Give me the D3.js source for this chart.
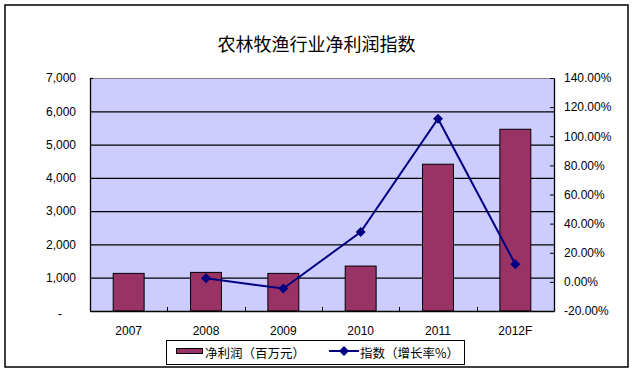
<!DOCTYPE html>
<html>
<head>
<meta charset="utf-8">
<script src="https://cdn.jsdelivr.net/npm/d3@7"></script>
<style>
  body { margin: 0; background: #fff; }
  text { font-family: Arial, "Liberation Sans", sans-serif; }
</style>
</head>
<body>
<div id="chart-area"></div>
<script>
// data
var years = ["2007", "2008", "2009", "2010", "2011", "2012F"];
var profit = [1130, 1160, 1130, 1350, 4410, 5460];
var growth = [null, 2.5, -4.6, 34.2, 112.0, 12.1];
var leftTicks = [0, 1000, 2000, 3000, 4000, 5000, 6000, 7000];
var rightTicks = [-20, 0, 20, 40, 60, 80, 100, 120, 140];

var W = 632, H = 376;
var plot = { left: 90, right: 554, top: 78, bottom: 311 };
var cjk = "'Noto Sans CJK SC', 'Noto Sans', sans-serif";

var svg = d3.select("#chart-area").append("svg")
    .attr("width", W)
    .attr("height", H);

// outer border
svg.append("rect")
    .attr("x", 5).attr("y", 5)
    .attr("width", 623).attr("height", 362)
    .attr("fill", "#fff")
    .attr("stroke", "#000")
    .attr("stroke-width", 1.5);

svg.append("text")
    .attr("x", 316.5)
    .attr("y", 43)
    .attr("text-anchor", "middle")
    .attr("dominant-baseline", "central")
    .style("font-family", cjk)
    .style("font-size", "18px")
    .text("农林牧渔行业净利润指数");

var x = d3.scaleBand().domain(years).range([plot.left, plot.right]).paddingInner(0).paddingOuter(0);
var y = d3.scaleLinear().domain([0, 7000]).range([plot.bottom, plot.top]);
var y2 = d3.scaleLinear().domain([-20, 140]).range([plot.bottom, plot.top]);

// plot background
svg.append("rect")
    .attr("x", plot.left).attr("y", plot.top)
    .attr("width", plot.right - plot.left)
    .attr("height", plot.bottom - plot.top)
    .attr("fill", "#CCCCFF");

// top and right border, gray
svg.append("path")
    .attr("d", "M" + plot.left + "," + (plot.top + 0.5) + "H" + (plot.right + 0.5) + "V" + plot.bottom)
    .attr("fill", "none")
    .attr("stroke", "#808080");

// gridlines + left axis
var yAxis = svg.append("g")
    .attr("transform", "translate(" + plot.left + ",0)")
    .call(d3.axisLeft(y)
        .tickValues(leftTicks)
        .tickSize(-(plot.right - plot.left))
        .tickPadding(14)
        .tickFormat(function(d) { return d === 0 ? "-" : d3.format(",")(d); }));

yAxis.select(".domain").remove();
yAxis.selectAll(".tick line")
    .attr("stroke", "#000")
    .attr("stroke-width", 1.2)
    .filter(function(d) { return d === 7000; }).attr("x2", 3);
yAxis.selectAll(".tick text")
    .attr("fill", "#000")
    .style("font-size", "12px")
    .attr("font-family", null);
yAxis.selectAll(".tick text").filter(function(d) { return d === 0; })
    .attr("dx", -14)
    .attr("dy", "0.5em");

// bars
var bw = x.bandwidth() * 0.4;
svg.append("g").selectAll("rect")
    .data(profit)
    .enter().append("rect")
    .attr("x", function(d, i) { return x(years[i]) + (x.bandwidth() - bw) / 2; })
    .attr("y", function(d) { return y(d); })
    .attr("width", bw)
    .attr("height", function(d) { return plot.bottom - y(d); })
    .attr("fill", "#993366")
    .attr("stroke", "#000")
    .attr("stroke-width", 1);

// left axis line
svg.append("line")
    .attr("x1", plot.left + 0.5).attr("x2", plot.left + 0.5)
    .attr("y1", plot.top).attr("y2", plot.bottom)
    .attr("stroke", "#000").attr("stroke-width", 1.3);

// x axis
var xAxis = svg.append("g")
    .attr("transform", "translate(0," + plot.bottom + ")")
    .call(d3.axisBottom(x).tickSize(0).tickPadding(15));
xAxis.select(".domain")
    .attr("stroke", "#000")
    .attr("stroke-width", 1.3);
xAxis.selectAll(".tick text")
    .attr("fill", "#000")
    .style("font-size", "12px")
    .attr("font-family", null);

// x boundary ticks (inside)
svg.append("g").selectAll("line")
    .data(years.slice(1))
    .enter().append("line")
    .attr("x1", function(d) { return Math.round(x(d)) + 0.5; })
    .attr("x2", function(d) { return Math.round(x(d)) + 0.5; })
    .attr("y1", plot.bottom - 4)
    .attr("y2", plot.bottom)
    .attr("stroke", "#000");

// right axis
var y2Axis = svg.append("g")
    .attr("transform", "translate(" + plot.right + ",0)")
    .call(d3.axisRight(y2)
        .tickValues(rightTicks)
        .tickSizeInner(-4)
        .tickSizeOuter(0)
        .tickPadding(10)
        .tickFormat(function(d) { return d.toFixed(2) + "%"; }));
y2Axis.select(".domain")
    .attr("stroke", "#000")
    .attr("stroke-width", 1.3);
y2Axis.selectAll(".tick line").attr("stroke", "#000");
y2Axis.selectAll(".tick text")
    .attr("fill", "#000")
    .style("font-size", "12px")
    .attr("font-family", null);

// growth line
var pts = growth.map(function(v, i) { return { year: years[i], v: v }; })
    .filter(function(d) { return d.v !== null; });
var cx = function(d) { return x(d.year) + x.bandwidth() / 2; };

svg.append("path")
    .datum(pts)
    .attr("fill", "none")
    .attr("stroke", "#000080")
    .attr("stroke-width", 2)
    .attr("d", d3.line().x(cx).y(function(d) { return y2(d.v); }));

var diamond = d3.symbol().type(d3.symbolSquare).size(50);
svg.append("g").selectAll("path")
    .data(pts)
    .enter().append("path")
    .attr("d", diamond)
    .attr("transform", function(d) { return "translate(" + cx(d) + "," + y2(d.v) + ") rotate(45)"; })
    .attr("fill", "#000080");

// legend
var lg = svg.append("g");
lg.append("rect")
    .attr("x", 166.5).attr("y", 340.5)
    .attr("width", 298).attr("height", 24)
    .attr("fill", "#fff")
    .attr("stroke", "#000");
lg.append("rect")
    .attr("x", 176.5).attr("y", 348.5)
    .attr("width", 26).attr("height", 5)
    .attr("fill", "#993366")
    .attr("stroke", "#000");
lg.append("text")
    .attr("x", 205).attr("y", 352)
    .attr("dominant-baseline", "central")
    .style("font-family", cjk)
    .style("font-size", "12.5px")
    .text("净利润（百万元）");
lg.append("line")
    .attr("x1", 329).attr("x2", 359)
    .attr("y1", 351).attr("y2", 351)
    .attr("stroke", "#000080").attr("stroke-width", 2);
lg.append("path")
    .attr("d", diamond)
    .attr("transform", "translate(344,351) rotate(45)")
    .attr("fill", "#000080");
lg.append("text")
    .attr("x", 360).attr("y", 352)
    .attr("dominant-baseline", "central")
    .style("font-family", cjk)
    .style("font-size", "12.5px")
    .text("指数（增长率%）");
</script>
</body>
</html>
